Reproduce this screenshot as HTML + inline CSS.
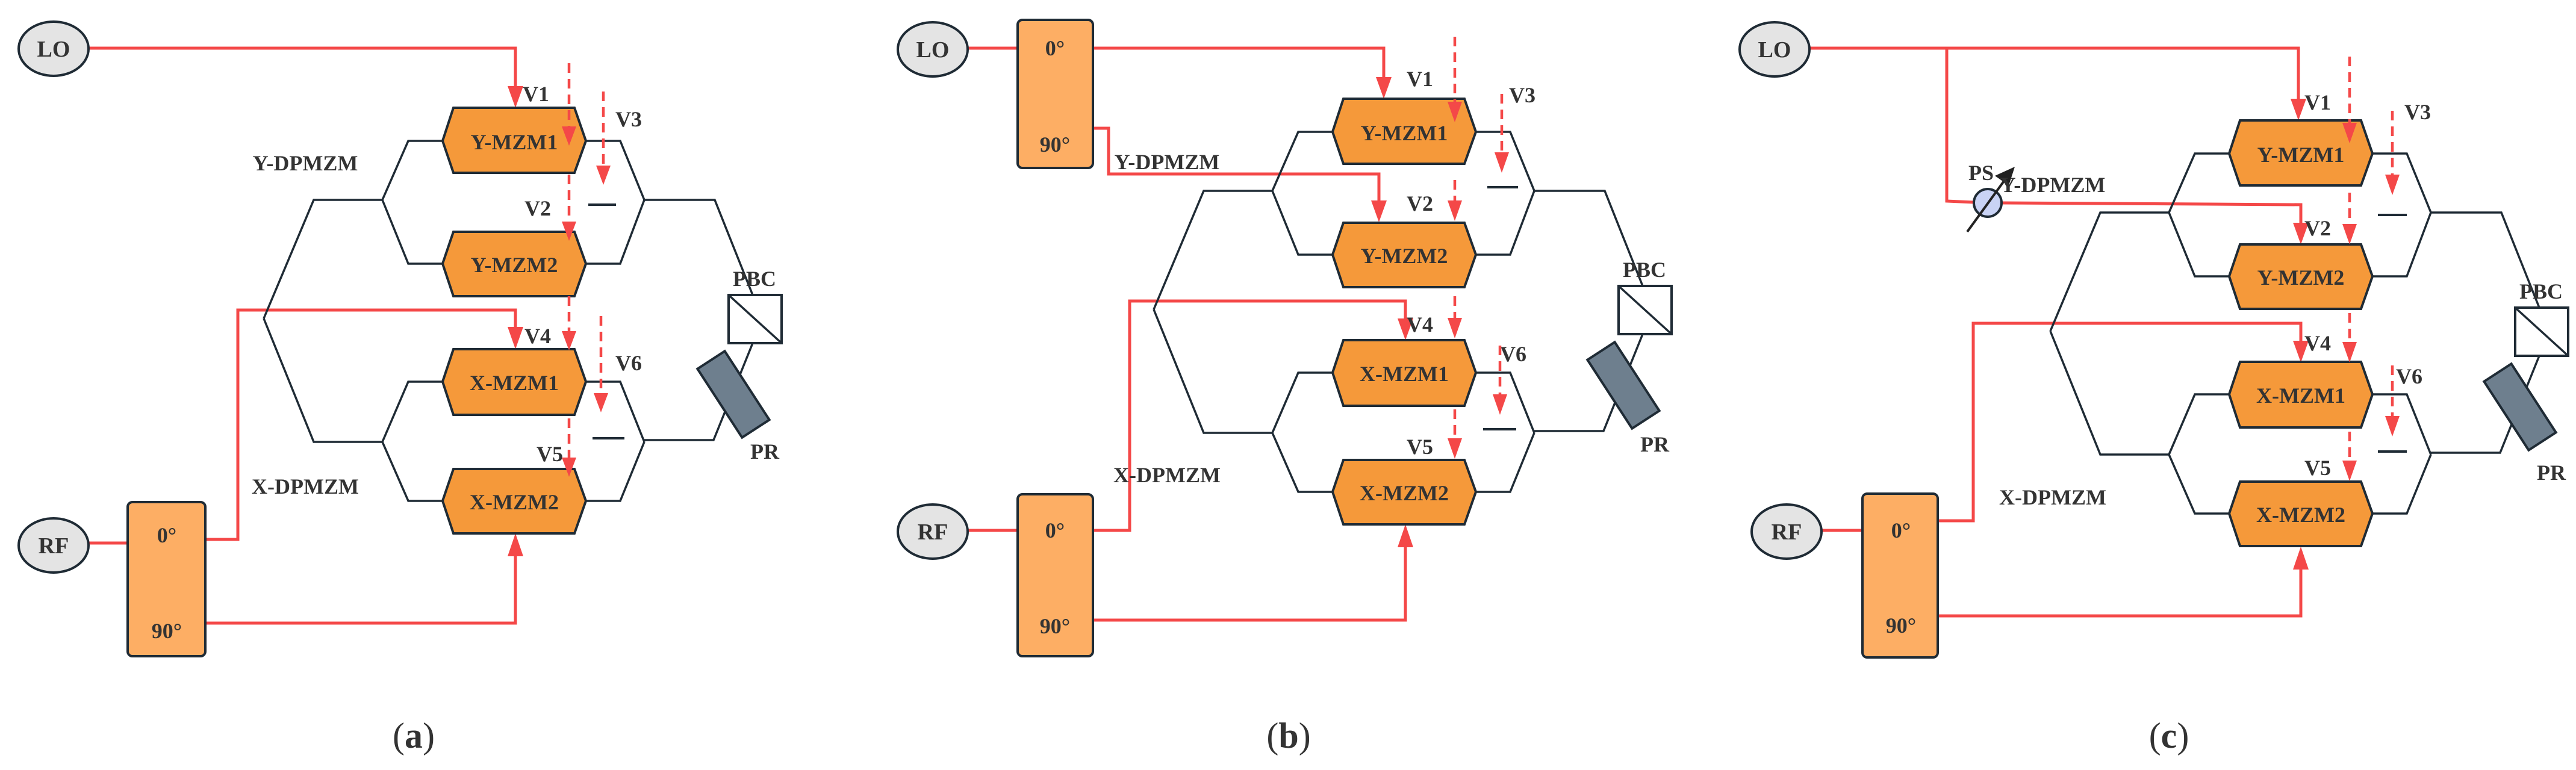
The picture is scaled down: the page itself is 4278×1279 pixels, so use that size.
<!DOCTYPE html>
<html><head><meta charset="utf-8"><style>
html,body{margin:0;padding:0;background:#fff;}
svg{display:block;}
svg text{font-family:"Liberation Serif","DejaVu Serif",serif;font-weight:bold;fill:#333;}
</style></head><body>
<svg width="4278" height="1279" viewBox="0 0 4278 1279" xmlns="http://www.w3.org/2000/svg" font-family="Liberation Serif, DejaVu Serif, serif" font-weight="bold">

<!-- ========== PANEL A ========== -->
<g>
<g stroke="#f44848" stroke-width="5" fill="none">
<polyline points="146,80 856,80 856,145"/>
<polyline points="146,902 212,902"/>
<polyline points="341,896 395,896 395,515 856,515 856,545"/>
<polyline points="341,1035 856,1035 856,922"/>
</g>
<g fill="#f44848">
<polygon points="843,143 869,143 856,179"/>
<polygon points="843,543 869,543 856,580"/>
<polygon points="843,924 869,924 856,886"/>
</g>
<ellipse cx="89" cy="81" rx="58" ry="45" fill="#e4e4e4" stroke="#1f2b35" stroke-width="4"/>
<text x="89" y="82" font-size="38" text-anchor="middle" dominant-baseline="central">LO</text>
<ellipse cx="89" cy="906" rx="58" ry="45" fill="#e4e4e4" stroke="#1f2b35" stroke-width="4"/>
<text x="89" y="907" font-size="38" text-anchor="middle" dominant-baseline="central">RF</text>
<rect x="212" y="834" width="129" height="256" rx="8" fill="#fdae64" stroke="#1f2b35" stroke-width="4"/>
<text x="277" y="889" font-size="36" text-anchor="middle" dominant-baseline="central">0°</text>
<text x="277" y="1048" font-size="36" text-anchor="middle" dominant-baseline="central">90°</text>
<text x="687" y="1222" font-size="60" text-anchor="middle" dominant-baseline="central" style="font-weight:normal">(<tspan font-weight="bold">a</tspan>)</text>
<g transform="translate(0,0)">
<g stroke="#1f2b35" stroke-width="3.5" fill="none">
<polyline points="438,529 521,332 635,332"/>
<polyline points="438,529 521,734 635,734"/>
<polyline points="635,332 678,234 735,234"/>
<polyline points="635,332 678,438 735,438"/>
<polyline points="973,234 1030,234 1070,332"/>
<polyline points="973,438 1030,438 1070,332"/>
<polyline points="1070,332 1187,332 1250,490"/>
<polyline points="635,734 678,634 735,634"/>
<polyline points="635,734 678,832 735,832"/>
<polyline points="973,634 1030,634 1070,734"/>
<polyline points="973,832 1030,832 1070,734"/>
<polyline points="1070,731 1185,731 1250,570"/>
</g>
<rect x="1210" y="490" width="88" height="80" fill="#fff" stroke="#1f2b35" stroke-width="4"/>
<line x1="1210" y1="490" x2="1298" y2="570" stroke="#1f2b35" stroke-width="3.5"/>
<rect x="-68" y="-27" width="136" height="54" fill="#6e7f8e" stroke="#1f2b35" stroke-width="4" transform="translate(1218,655) rotate(57)"/>
<g fill="#f5993a" stroke="#1f2b35" stroke-width="4">
<polygon points="735,234 753,179 954,179 973,234 954,287 753,287"/>
<polygon points="735,438 753,385 954,385 973,438 954,492 753,492"/>
<polygon points="735,634 753,580 954,580 973,634 954,689 753,689"/>
<polygon points="735,832 753,779 954,779 973,832 954,886 753,886"/>
</g>
<g font-size="36" text-anchor="middle" dominant-baseline="central">
<text x="854" y="236">Y-MZM1</text>
<text x="854" y="440">Y-MZM2</text>
<text x="854" y="636">X-MZM1</text>
<text x="854" y="834">X-MZM2</text>
<text x="507" y="271">Y-DPMZM</text>
<text x="507" y="808">X-DPMZM</text>
<text x="1253" y="463">PBC</text>
<text x="1270" y="750">PR</text>
<text x="890" y="156">V1</text>
<text x="1044" y="198">V3</text>
<text x="893" y="346">V2</text>
<text x="893" y="558">V4</text>
<text x="1044" y="603">V6</text>
<text x="913" y="754">V5</text>
</g>
<g stroke="#f44848" stroke-width="4.5" stroke-dasharray="16 10" fill="none">
<line x1="945" y1="105" x2="945" y2="212"/>
<line x1="945" y1="290" x2="945" y2="370"/>
<line x1="945" y1="492" x2="945" y2="552"/>
<line x1="945" y1="695" x2="945" y2="762"/>
<line x1="1002" y1="152" x2="1002" y2="277"/>
<line x1="998" y1="525" x2="998" y2="655"/>
</g>
<g fill="#f44848">
<polygon points="933,210 957,210 945,242"/>
<polygon points="933,368 957,368 945,400"/>
<polygon points="933,550 957,550 945,582"/>
<polygon points="933,760 957,760 945,792"/>
<polygon points="990,275 1014,275 1002,307"/>
<polygon points="986,653 1010,653 998,685"/>
</g>
<line x1="977" y1="340" x2="1023" y2="340" stroke="#1f2b35" stroke-width="4"/>
<line x1="984" y1="728" x2="1037" y2="728" stroke="#1f2b35" stroke-width="4"/>
</g>
</g>

<!-- ========== PANEL B ========== -->
<g>
<g stroke="#f44848" stroke-width="5" fill="none">
<polyline points="1607,80 1690,80"/>
<polyline points="1815,80 2298,80 2298,130"/>
<polyline points="1815,213 1841,213 1841,289 2290,289 2290,334"/>
<polyline points="1607,881 1690,881"/>
<polyline points="1815,881 1876,881 1876,500 2334,500 2334,530"/>
<polyline points="1815,1030 2334,1030 2334,907"/>
</g>
<g fill="#f44848">
<polygon points="2285,128 2311,128 2298,164"/>
<polygon points="2277,333 2303,333 2290,369"/>
<polygon points="2321,529 2347,529 2334,565"/>
<polygon points="2321,909 2347,909 2334,871"/>
</g>
<ellipse cx="1549" cy="82" rx="58" ry="45" fill="#e4e4e4" stroke="#1f2b35" stroke-width="4"/>
<text x="1549" y="83" font-size="38" text-anchor="middle" dominant-baseline="central">LO</text>
<ellipse cx="1549" cy="883" rx="58" ry="45" fill="#e4e4e4" stroke="#1f2b35" stroke-width="4"/>
<text x="1549" y="884" font-size="38" text-anchor="middle" dominant-baseline="central">RF</text>
<rect x="1690" y="33" width="125" height="246" rx="8" fill="#fdae64" stroke="#1f2b35" stroke-width="4"/>
<text x="1752" y="80" font-size="36" text-anchor="middle" dominant-baseline="central">0°</text>
<text x="1752" y="240" font-size="36" text-anchor="middle" dominant-baseline="central">90°</text>
<rect x="1690" y="821" width="125" height="269" rx="8" fill="#fdae64" stroke="#1f2b35" stroke-width="4"/>
<text x="1752" y="881" font-size="36" text-anchor="middle" dominant-baseline="central">0°</text>
<text x="1752" y="1040" font-size="36" text-anchor="middle" dominant-baseline="central">90°</text>
<text x="2140" y="1222" font-size="60" text-anchor="middle" dominant-baseline="central" style="font-weight:normal">(<tspan font-weight="bold">b</tspan>)</text>
<g transform="translate(1478,-15)">
<g stroke="#1f2b35" stroke-width="3.5" fill="none">
<polyline points="438,529 521,332 635,332"/>
<polyline points="438,529 521,734 635,734"/>
<polyline points="635,332 678,234 735,234"/>
<polyline points="635,332 678,438 735,438"/>
<polyline points="973,234 1030,234 1070,332"/>
<polyline points="973,438 1030,438 1070,332"/>
<polyline points="1070,332 1187,332 1250,490"/>
<polyline points="635,734 678,634 735,634"/>
<polyline points="635,734 678,832 735,832"/>
<polyline points="973,634 1030,634 1070,734"/>
<polyline points="973,832 1030,832 1070,734"/>
<polyline points="1070,731 1185,731 1250,570"/>
</g>
<rect x="1210" y="490" width="88" height="80" fill="#fff" stroke="#1f2b35" stroke-width="4"/>
<line x1="1210" y1="490" x2="1298" y2="570" stroke="#1f2b35" stroke-width="3.5"/>
<rect x="-68" y="-27" width="136" height="54" fill="#6e7f8e" stroke="#1f2b35" stroke-width="4" transform="translate(1218,655) rotate(57)"/>
<g fill="#f5993a" stroke="#1f2b35" stroke-width="4">
<polygon points="735,234 753,179 954,179 973,234 954,287 753,287"/>
<polygon points="735,438 753,385 954,385 973,438 954,492 753,492"/>
<polygon points="735,634 753,580 954,580 973,634 954,689 753,689"/>
<polygon points="735,832 753,779 954,779 973,832 954,886 753,886"/>
</g>
<g font-size="36" text-anchor="middle" dominant-baseline="central">
<text x="854" y="236">Y-MZM1</text>
<text x="854" y="440">Y-MZM2</text>
<text x="854" y="636">X-MZM1</text>
<text x="854" y="834">X-MZM2</text>
<text x="460" y="284">Y-DPMZM</text>
<text x="460" y="804">X-DPMZM</text>
<text x="1253" y="463">PBC</text>
<text x="1270" y="753">PR</text>
<text x="880" y="146">V1</text>
<text x="1050" y="173">V3</text>
<text x="880" y="353">V2</text>
<text x="880" y="554">V4</text>
<text x="1035" y="603">V6</text>
<text x="880" y="757">V5</text>
</g>
<g stroke="#f44848" stroke-width="4.5" stroke-dasharray="16 10" fill="none">
<line x1="938" y1="76" x2="938" y2="186"/>
<line x1="938" y1="314" x2="938" y2="350"/>
<line x1="938" y1="507" x2="938" y2="545"/>
<line x1="938" y1="695" x2="938" y2="745"/>
<line x1="1016" y1="171" x2="1016" y2="270"/>
<line x1="1013" y1="589" x2="1013" y2="672"/>
</g>
<g fill="#f44848">
<polygon points="926,184 950,184 938,218"/>
<polygon points="926,348 950,348 938,382"/>
<polygon points="926,543 950,543 938,577"/>
<polygon points="926,743 950,743 938,777"/>
<polygon points="1004,268 1028,268 1016,302"/>
<polygon points="1001,670 1025,670 1013,704"/>
</g>
<line x1="992" y1="326" x2="1043" y2="326" stroke="#1f2b35" stroke-width="4"/>
<line x1="985" y1="728" x2="1040" y2="728" stroke="#1f2b35" stroke-width="4"/>
</g>
</g>

<!-- ========== PANEL C ========== -->
<g>
<g stroke="#f44848" stroke-width="5" fill="none">
<polyline points="3005,80 3817,80 3817,166"/>
<polyline points="3233,80 3233,334 3278,336"/>
<polyline points="3325,337 3821,340 3821,372"/>
<polyline points="3025,881 3093,881"/>
<polyline points="3218,865 3277,865 3277,537 3821,537 3821,568"/>
<polyline points="3218,1023 3821,1023 3821,944"/>
</g>
<g fill="#f44848">
<polygon points="3804,164 3830,164 3817,200"/>
<polygon points="3808,370 3834,370 3821,406"/>
<polygon points="3808,566 3834,566 3821,602"/>
<polygon points="3808,946 3834,946 3821,908"/>
</g>
<circle cx="3301" cy="337" r="23" fill="#c9d3f5" stroke="#1f2b35" stroke-width="4"/>
<line x1="3267" y1="385" x2="3330" y2="298" stroke="#222" stroke-width="4"/>
<polygon points="3346,277 3313,292 3336,308" fill="#222"/>
<text x="3290" y="287" font-size="36" text-anchor="middle" dominant-baseline="central">PS</text>
<ellipse cx="2947" cy="82" rx="58" ry="45" fill="#e4e4e4" stroke="#1f2b35" stroke-width="4"/>
<text x="2947" y="83" font-size="38" text-anchor="middle" dominant-baseline="central">LO</text>
<ellipse cx="2967" cy="883" rx="58" ry="45" fill="#e4e4e4" stroke="#1f2b35" stroke-width="4"/>
<text x="2967" y="884" font-size="38" text-anchor="middle" dominant-baseline="central">RF</text>
<rect x="3093" y="820" width="125" height="272" rx="8" fill="#fdae64" stroke="#1f2b35" stroke-width="4"/>
<text x="3157" y="881" font-size="36" text-anchor="middle" dominant-baseline="central">0°</text>
<text x="3157" y="1039" font-size="36" text-anchor="middle" dominant-baseline="central">90°</text>
<text x="3602" y="1222" font-size="60" text-anchor="middle" dominant-baseline="central" style="font-weight:normal">(<tspan font-weight="bold">c</tspan>)</text>
<g transform="translate(2967,21)">
<g stroke="#1f2b35" stroke-width="3.5" fill="none">
<polyline points="438,529 521,332 635,332"/>
<polyline points="438,529 521,734 635,734"/>
<polyline points="635,332 678,234 735,234"/>
<polyline points="635,332 678,438 735,438"/>
<polyline points="973,234 1030,234 1070,332"/>
<polyline points="973,438 1030,438 1070,332"/>
<polyline points="1070,332 1187,332 1250,490"/>
<polyline points="635,734 678,634 735,634"/>
<polyline points="635,734 678,832 735,832"/>
<polyline points="973,634 1030,634 1070,734"/>
<polyline points="973,832 1030,832 1070,734"/>
<polyline points="1070,731 1185,731 1250,570"/>
</g>
<rect x="1210" y="490" width="88" height="80" fill="#fff" stroke="#1f2b35" stroke-width="4"/>
<line x1="1210" y1="490" x2="1298" y2="570" stroke="#1f2b35" stroke-width="3.5"/>
<rect x="-68" y="-27" width="136" height="54" fill="#6e7f8e" stroke="#1f2b35" stroke-width="4" transform="translate(1218,655) rotate(57)"/>
<g fill="#f5993a" stroke="#1f2b35" stroke-width="4">
<polygon points="735,234 753,179 954,179 973,234 954,287 753,287"/>
<polygon points="735,438 753,385 954,385 973,438 954,492 753,492"/>
<polygon points="735,634 753,580 954,580 973,634 954,689 753,689"/>
<polygon points="735,832 753,779 954,779 973,832 954,886 753,886"/>
</g>
<g font-size="36" text-anchor="middle" dominant-baseline="central">
<text x="854" y="236">Y-MZM1</text>
<text x="854" y="440">Y-MZM2</text>
<text x="854" y="636">X-MZM1</text>
<text x="854" y="834">X-MZM2</text>
<text x="442" y="286">Y-DPMZM</text>
<text x="442" y="805">X-DPMZM</text>
<text x="1253" y="463">PBC</text>
<text x="1270" y="764">PR</text>
<text x="882" y="149">V1</text>
<text x="1048" y="165">V3</text>
<text x="882" y="358">V2</text>
<text x="882" y="549">V4</text>
<text x="1034" y="604">V6</text>
<text x="882" y="756">V5</text>
</g>
<g stroke="#f44848" stroke-width="4.5" stroke-dasharray="16 10" fill="none">
<line x1="935" y1="73" x2="935" y2="185"/>
<line x1="935" y1="299" x2="935" y2="353"/>
<line x1="935" y1="499" x2="935" y2="549"/>
<line x1="935" y1="696" x2="935" y2="746"/>
<line x1="1006" y1="163" x2="1006" y2="271"/>
<line x1="1006" y1="586" x2="1006" y2="672"/>
</g>
<g fill="#f44848">
<polygon points="923,183 947,183 935,217"/>
<polygon points="923,351 947,351 935,385"/>
<polygon points="923,547 947,547 935,581"/>
<polygon points="923,744 947,744 935,778"/>
<polygon points="994,269 1018,269 1006,303"/>
<polygon points="994,670 1018,670 1006,704"/>
</g>
<line x1="982" y1="336" x2="1030" y2="336" stroke="#1f2b35" stroke-width="4"/>
<line x1="982" y1="729" x2="1030" y2="729" stroke="#1f2b35" stroke-width="4"/>
</g>
</g>
</svg>
</body></html>
